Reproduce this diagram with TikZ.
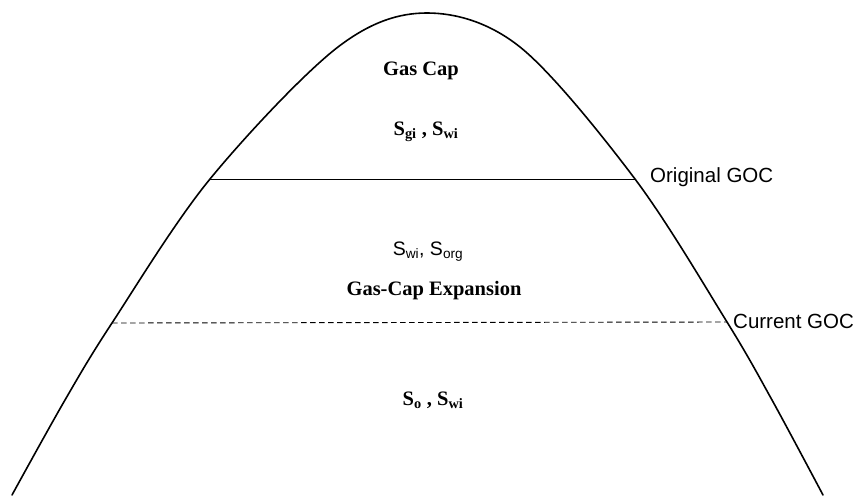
\documentclass[tikz,border=0pt]{standalone}
\usepackage{fontspec}
\setmainfont{Liberation Serif}
\newfontfamily\arialf{Liberation Sans}
\begin{document}
\begin{tikzpicture}[x=1pt,y=-1pt,
  serlab/.style={font=\fontsize{20.5}{24}\selectfont\bfseries, inner sep=0pt, anchor=base},
  sanlab/.style={font=\arialf\fontsize{19.5}{22}\selectfont, inner sep=0pt, anchor=base},
  goclab/.style={font=\arialf\fontsize{20.5}{24}\selectfont, inner sep=0pt, anchor=base west},
  dome/.style={line width=1.6pt, line cap=round, line join=round},
  gocline/.style={line width=0.9pt},
  gocdash/.style={line width=0.9pt, dash pattern=on 5.5pt off 3.5pt}]
\useasboundingbox (0,0) rectangle (856,495);
\coordinate (ogL) at (210,179);
\coordinate (ogR) at (635,179);
\coordinate (cgL) at (112,323);
\coordinate (cgR) at (727,322);
\draw[dome] plot[smooth, tension=0.55] coordinates {(12,495) (65,400) (112,323) (210,179) (338,47) (427,13) (520,47) (635,179) (727,322) (772,400) (823,495)};
\draw[gocline] (ogL) -- (ogR);
\draw[gocdash] (cgL) -- (cgR);
\node[serlab] (gascap) at (421,75) {Gas Cap};
\node[serlab] (sgi) at (426,135) {S\textsubscript{gi} , S\textsubscript{wi}};
\node[sanlab] (sorg) at (428,255) {S\textsubscript{wi}, S\textsubscript{org}};
\node[serlab] (gce) at (434,295) {Gas-Cap Expansion};
\node[serlab] (so) at (433,405) {S\textsubscript{o} , S\textsubscript{wi}};
\node[goclab] (ogoc) at (650,182) {Original GOC};
\node[goclab] (cgoc) at (733,328) {Current GOC};
\end{tikzpicture}
\end{document}
